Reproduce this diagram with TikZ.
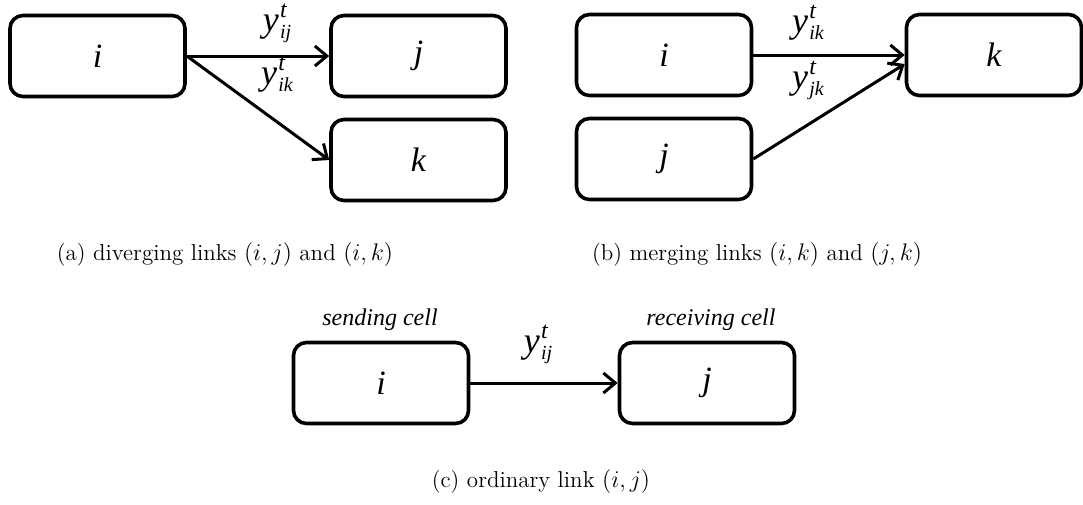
\documentclass[tikz,border=0pt]{standalone}
\usepackage{fontspec}
\newfontfamily\tms{Liberation Serif}
\usetikzlibrary{arrows.meta}
\newcommand{\ylab}[1]{{\tms\itshape\fontsize{18}{18}\selectfont y\kern0.6pt\rlap{\raisebox{6.8pt}{\fontsize{12}{12}\selectfont t}}\raisebox{-3.8pt}{\fontsize{10}{10}\selectfont #1}}}
\begin{document}
\begin{tikzpicture}[x=0.5pt,y=-0.5pt,
  cell/.style={draw, line width=1.8pt, rounded corners=6.5pt, minimum width=87.5pt, minimum height=40.5pt, inner sep=0pt, font=\tms\itshape\fontsize{17}{17}\selectfont},
  link/.style={line width=1.5pt, -{Straight Barb[length=6pt,width=10pt,line width=1.5pt]}},
  lab/.style={anchor=base, inner sep=0pt},
  captxt/.style={anchor=base, inner sep=0pt, font=\fontsize{11.5}{13}\selectfont},
  note/.style={anchor=base, inner sep=0pt, font=\tms\itshape\fontsize{12}{12}\selectfont}]
\useasboundingbox (0,0) rectangle (1083,504);
% (a)
\node[cell] (ai) at (97.5,56) {i};
\node[cell] (aj) at (418.5,56) {j};
\node[cell] (ak) at (418.5,160) {k};
\draw[link] (ai.east) -- (aj.west);
\draw[link] (ai.east) -- (ak.west);
\node[lab] (laij) at (277,31) {\ylab{ij}};
\node[lab] (laik) at (277,84) {\ylab{ik}};
\node[captxt] (capa) at (225,260) {(a) diverging links $(i,j)$ and $(i,k)$};
% (b)
\node[cell] (bi) at (664,55) {i};
\node[cell] (bj) at (664,159) {j};
\node[cell] (bk) at (994,55) {k};
\coordinate (bkin) at ([yshift=-4.5pt]bk.west);
\draw[link] (bi.east) -- (bk.west);
\draw[link] (bj.east) -- (bkin);
\node[lab] (lbik) at (808,32) {\ylab{ik}};
\node[lab] (lbjk) at (808,88) {\ylab{jk}};
\node[captxt] (capb) at (757,260) {(b) merging links $(i,k)$ and $(j,k)$};
% (c)
\node[cell] (ci) at (381,383) {i};
\node[cell] (cj) at (707,383) {j};
\draw[link] (ci.east) -- (cj.west);
\node[lab] (lcij) at (538,352) {\ylab{ij}};
\node[note] (send) at (380,325) {sending cell};
\node[note] (recv) at (711,325) {receiving cell};
\node[captxt] (capc) at (541,487) {(c) ordinary link $(i,j)$};
\end{tikzpicture}
\end{document}
